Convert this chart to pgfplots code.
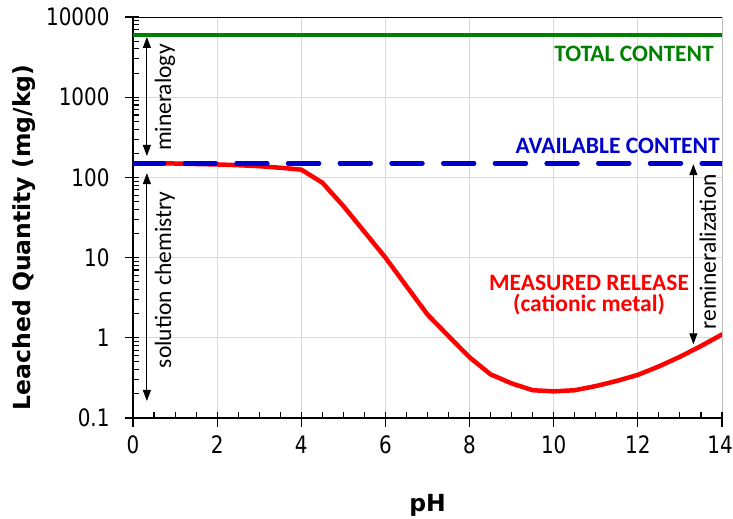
\documentclass[border=0pt]{standalone}
\usepackage{pgfplots}
\pgfplotsset{compat=1.18}
\usepackage{fontspec}
\setmainfont{Carlito}
\newfontfamily\tickfont[FakeStretch=0.83]{DejaVu Sans}
\newfontfamily\labfont{DejaVu Sans}
\usetikzlibrary{arrows.meta}
\definecolor{tgreen}{RGB}{0,128,0}
\definecolor{tblue}{RGB}{0,0,204}
\definecolor{gridgray}{RGB}{217,217,217}
\begin{document}
\begin{tikzpicture}
\useasboundingbox (-133bp,-101bp) rectangle (600bp,418bp);
\begin{axis}[
  at={(0,0)}, anchor=south west,
  scale only axis, width=589bp, height=401bp,
  xmin=0, xmax=14, ymode=log, log basis y=10, ymin=0.1, ymax=10000,
  xtick={0,2,...,14}, xticklabels={0,2,4,6,8,10,12,\hspace*{-4bp}14},
  minor x tick num=3,
  ytick={0.1,1,10,100,1000,10000}, yticklabels={0.1,1,10,100,1000,10000},
  minor ytick={0.2,0.3,0.4,0.5,0.6,0.7,0.8,0.9,2,3,4,5,6,7,8,9,20,30,40,50,60,70,80,90,200,300,400,500,600,700,800,900,2000,3000,4000,5000,6000,7000,8000,9000},
  axis x line*=bottom, axis y line*=left,
  tick align=inside, major tick length=6bp, minor tick length=6bp,
  tick style={draw=black, line width=1.1bp},
  extra x ticks={0,2,...,14}, extra x tick labels={,,,,,,,},
  extra x tick style={tick align=outside, major tick length=9bp, grid=none},
  extra y ticks={0.1,1,10,100,1000,10000}, extra y tick labels={,,,,,},
  extra y tick style={tick align=outside, major tick length=8bp, grid=none},
  grid=major, major grid style={draw=gridgray, line width=0.9bp},
  axis line style={black, line width=1.3bp},
  ticklabel style={font=\tickfont\fontsize{24bp}{28bp}\selectfont},
  xticklabel style={yshift=-14bp},
  yticklabel style={xshift=-20bp},
  xlabel={pH}, ylabel={Leached Quantity (mg/kg)},
  label style={font=\labfont\bfseries\fontsize{23.5bp}{28bp}\selectfont},
  xlabel style={at={(axis description cs:0.5,0)}, anchor=base, yshift=-93bp},
  ylabel style={at={(axis description cs:-0.1851,0.45)}, anchor=center},
  no marks,
]
\draw[black, line width=1bp] (rel axis cs:0,1) -- (rel axis cs:1,1) -- (rel axis cs:1,0);
\addplot[red, line width=4.5bp, line cap=round, line join=round, sharp plot] table {
x y
0 150
0.5 150
1 149
1.5 147
2 145
2.5 142
3 138
3.5 132
4 125
4.5 86
5 44
5.5 21
6 10
6.5 4.4
7 1.95
7.5 1.05
8 0.57
8.5 0.35
9 0.27
9.5 0.222
10 0.215
10.5 0.222
11 0.25
11.5 0.29
12 0.345
12.5 0.44
13 0.58
13.5 0.79
14 1.1
};
\addplot[tblue, line width=4.5bp, line cap=round, dash pattern=on 31bp off 20.7bp] coordinates {(0,150) (14,150)};
\addplot[tgreen, line width=4bp] coordinates {(0,6000) (14,6000)};

\draw[line width=1.1bp, {Triangle[length=11bp,width=8bp]}-{Triangle[length=11bp,width=8bp]}] (axis cs:0.33,5640) -- (axis cs:0.33,185);
\draw[line width=1.1bp, {Triangle[length=11bp,width=8bp]}-{Triangle[length=11bp,width=8bp]}] (axis cs:0.33,113) -- (axis cs:0.33,0.163);
\draw[line width=1.1bp, {Triangle[length=11bp,width=8bp]}-{Triangle[length=11bp,width=8bp]}] (axis cs:13.32,146) -- (axis cs:13.32,0.83);

\node[rotate=90, inner sep=0, font=\fontsize{23.5bp}{28bp}\selectfont] at (axis cs:0.76,987) {mineralogy};
\node[rotate=90, inner sep=0, font=\fontsize{23.5bp}{28bp}\selectfont] at (axis cs:0.76,5.26) {solution chemistry};
\node[rotate=90, inner sep=0, font=\fontsize{23.5bp}{28bp}\selectfont] at (axis cs:13.66,11.8) {remineralization};

\node[anchor=base east, inner sep=0, text=tgreen, font=\bfseries\fontsize{23.5bp}{28bp}\selectfont] at (axis cs:13.81,2825) {TOTAL CONTENT};
\node[anchor=base east, inner sep=0, text=tblue, font=\bfseries\fontsize{23.5bp}{28bp}\selectfont] at (axis cs:13.95,196) {AVAILABLE CONTENT};
\node[anchor=base, inner sep=0, text=red, font=\bfseries\fontsize{23.5bp}{28bp}\selectfont] at (axis cs:10.84,3.94) {MEASURED RELEASE};
\node[anchor=base, inner sep=0, text=red, font=\bfseries\fontsize{23.5bp}{28bp}\selectfont] at (axis cs:10.84,2.10) {(cationic metal)};
\end{axis}
\end{tikzpicture}
\end{document}
